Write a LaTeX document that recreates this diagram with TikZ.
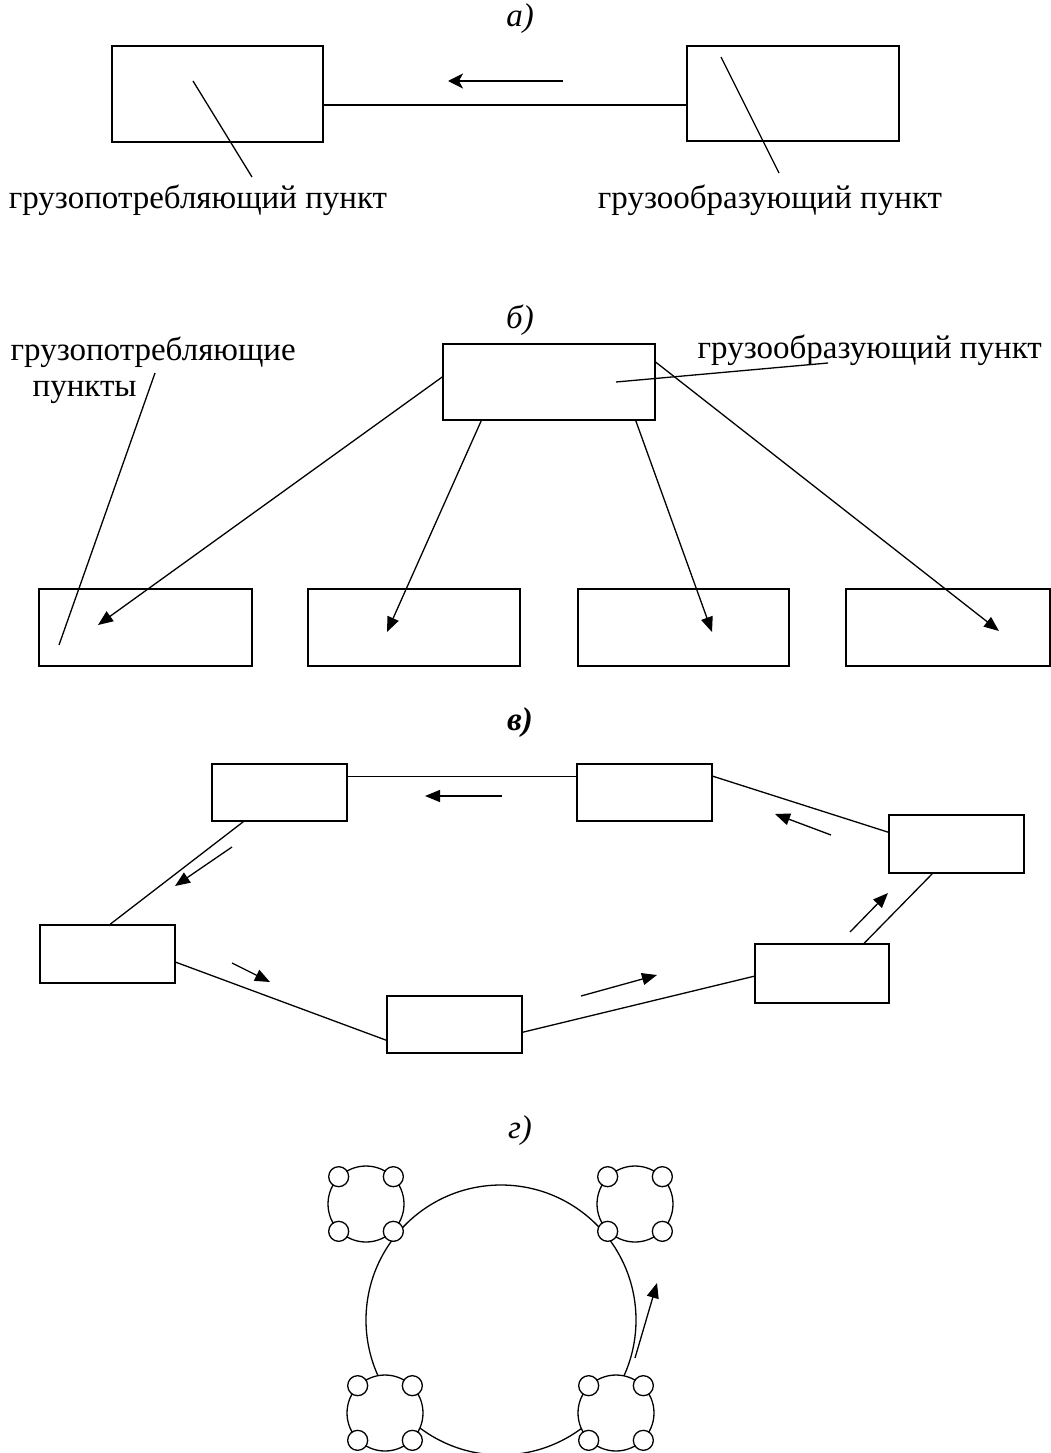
\documentclass[tikz,border=0pt]{standalone}
\usepackage{fontspec}
\setmainfont{Liberation Serif}
\usetikzlibrary{arrows.meta}

\begin{document}
\begin{tikzpicture}[x = 1pt, y = -1pt, line width = 1.3pt,
                    font = \fontsize{33}{40}\selectfont]
\tikzstyle{PointStyle}=[shape = rectangle,
                        inner sep = 0pt,
                        line width = 1.6pt,
                        draw]
\tikzstyle{RingStyle}=[shape = circle, minimum size = 76pt, inner sep = 0pt, fill = white, draw]
\tikzstyle{HoleStyle}=[shape = circle, minimum size = 20pt, inner sep = 0pt, fill = white, draw]
\tikzstyle{LabelStyle}=[anchor = base, inner sep = 0pt]
\tikzstyle{post}=[-{Triangle[length = 15pt, width = 12pt]}]
\tikzstyle{barb}=[-{Stealth[length = 15pt, width = 15pt, inset = 4pt]}]
\useasboundingbox (0,0) rectangle (1051,1453);
% a)
\node[LabelStyle] (la) at (520,27) {\itshape а)};
\node[PointStyle, minimum width = 211pt, minimum height = 96pt] (a1) at (217.5,94) {};
\node[PointStyle, minimum width = 212pt, minimum height = 95pt] (a2) at (793,93.5) {};
\draw ([yshift = -11pt]a1.east) -- ([yshift = -11.5pt]a2.west);
\draw[barb] (563,81) -- (448,81);
\node[LabelStyle] (ta1) at (198,208) {грузопотребляющий пункт};
\node[LabelStyle] (ta2) at (770,208) {грузообразующий пункт};
\coordinate (pa1) at (193,81);
\coordinate (pa2) at (721,57);
\draw (pa1) -- (252,177);
\draw (pa2) -- (779,173);
% b)
\node[LabelStyle] (lb) at (520,328) {\itshape б)};
\node[PointStyle, minimum width = 212pt, minimum height = 76pt] (b0) at (549,382) {};
\node[PointStyle, minimum width = 213pt, minimum height = 77pt] (b1) at (145.5,627.5) {};
\node[PointStyle, minimum width = 212pt, minimum height = 77pt] (b2) at (414,627.5) {};
\node[PointStyle, minimum width = 211pt, minimum height = 77pt] (b3) at (683.5,627.5) {};
\node[PointStyle, minimum width = 204pt, minimum height = 77pt] (b4) at (948,627.5) {};
\coordinate (t1) at (98,625);
\coordinate (t2) at (387,632);
\coordinate (t3) at (712,632);
\coordinate (t4) at (999,631);
\draw[post] ([yshift = 5pt]b0.west) -- (t1);
\draw[post] ([xshift = 39pt]b0.south west) -- (t2);
\draw[post] ([xshift = -20pt]b0.south east) -- (t3);
\draw[post] ([yshift = -19pt]b0.north east) -- (t4);
\node[LabelStyle, anchor = base west] (tb1) at (10,360) {грузопотребляющие};
\node[LabelStyle, anchor = base west] (tb2) at (32,396) {пункты};
\node[LabelStyle, anchor = base west] (tb3) at (697,358) {грузообразующий пункт};
\coordinate (pb1) at (155,373);
\coordinate (pb2) at (828,363);
\draw (pb1) -- (59,645);
\draw (pb2) -- (616,382);
% v)
\node[LabelStyle] (lv) at (520,730) {\bfseries\itshape в)};
\node[PointStyle, minimum width = 135pt, minimum height = 57pt] (vA) at (279.5,792.5) {};
\node[PointStyle, minimum width = 135pt, minimum height = 57pt] (vB) at (644.5,792.5) {};
\node[PointStyle, minimum width = 135pt, minimum height = 58pt] (vC) at (956.5,844) {};
\node[PointStyle, minimum width = 134pt, minimum height = 59pt] (vD) at (822,973.5) {};
\node[PointStyle, minimum width = 135pt, minimum height = 57pt] (vE) at (454.5,1024.5) {};
\node[PointStyle, minimum width = 135pt, minimum height = 58pt] (vF) at (107.5,954) {};
\draw ([yshift = -13pt]vA.north east) -- ([yshift = -13pt]vB.north west);
\draw ([yshift = -13pt]vB.north east) -- ([yshift = -18pt]vC.north west);
\draw ([xshift = 44pt]vC.south west) -- ([xshift = 110pt]vD.north west);
\draw ([yshift = -33pt]vD.north west) -- ([yshift = -37pt]vE.north east);
\draw ([yshift = -45pt]vE.north west) -- ([yshift = -38pt]vF.north east);
\draw ([xshift = 71pt]vF.north west) -- ([xshift = 32pt]vA.south west);
\draw[post] (502,796) -- (425,796);
\draw[post] (831,835) -- (775,814);
\draw[post] (850,932) -- (888,893);
\draw[post] (581,996) -- (657,975);
\draw[post] (232,963) -- (270,982);
\draw[post] (232,847) -- (175,886);
% g)
\node[LabelStyle] (lg) at (520,1138) {\itshape г)};
\node[shape = circle, minimum size = 270pt, inner sep = 0pt, draw] (loop) at (501,1320) {};
\foreach \n/\x/\y in {g1/366/1204, g2/635/1204, g3/385/1413, g4/616/1413}
{
  \node[RingStyle] (\n) at (\x,\y) {};
  \foreach \a in {45,135,225,315}
    \node[HoleStyle] (\n-\a) at (\n.\a) {};
}
\draw[post] (635,1358) -- (657,1283);
\end{tikzpicture}
\end{document}
